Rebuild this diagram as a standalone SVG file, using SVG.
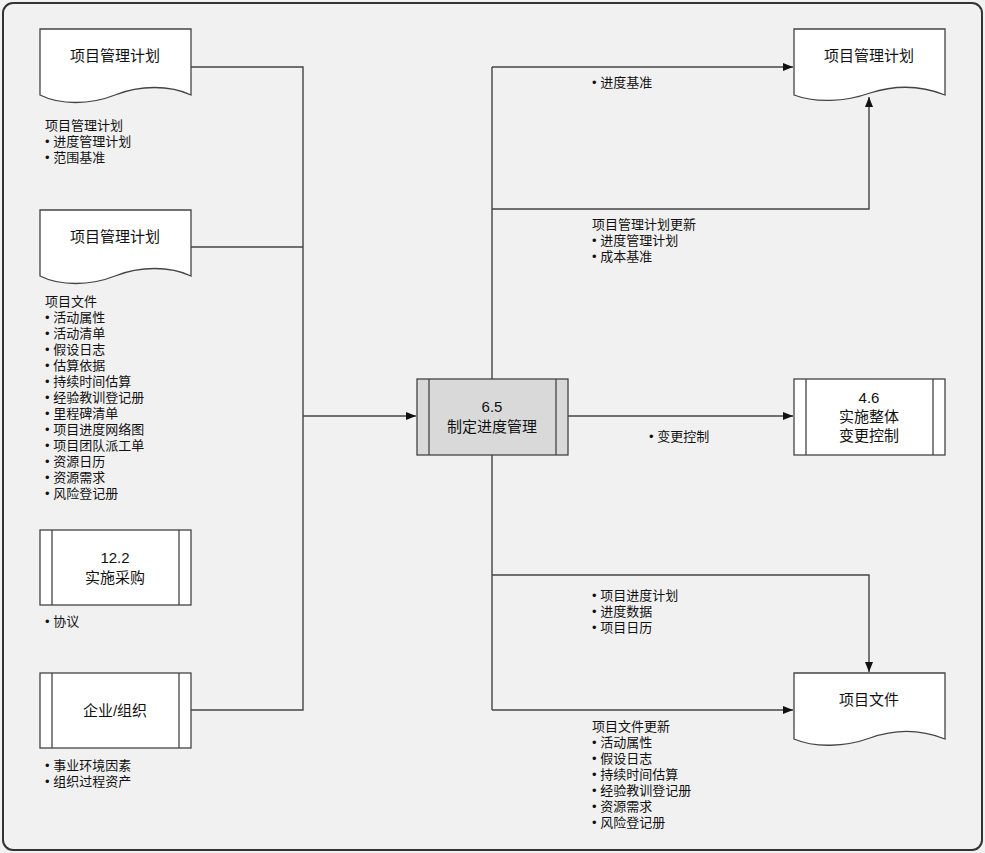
<svg xmlns="http://www.w3.org/2000/svg" width="985" height="853" viewBox="0 0 985 853">
<style>
.bg{fill:#f1f1f1}
.frame{fill:none;stroke:#333;stroke-width:2}
.node{fill:#fff;stroke:#444;stroke-width:1.3}
.proc{fill:#d9d9d9;stroke:#444;stroke-width:1.3}
.in{stroke:#444;stroke-width:1.3;fill:none}
.t{font-family:"Liberation Sans","Noto Sans CJK SC",sans-serif;font-size:15px;fill:#111;text-anchor:middle}
.l{font-family:"Liberation Sans","Noto Sans CJK SC",sans-serif;font-size:13px;fill:#111}
.c{fill:none;stroke:#444;stroke-width:1.4}
</style>
<defs>
<marker id="ah" markerWidth="10" markerHeight="8" refX="10" refY="4" orient="auto" markerUnits="userSpaceOnUse">
<path d="M0,0 L10,4 L0,8 Z" fill="#111"/>
</marker>
</defs>
<rect x="0" y="0" width="985" height="853" class="bg"/>
<rect x="3" y="3" width="979" height="847" rx="10" class="frame"/>

<g id="connectors">
<polyline class="c" points="191,67 303,67 303,710 191,710"/>
<line class="c" x1="191" y1="247" x2="303" y2="247"/>
<line class="c" x1="303" y1="416" x2="416" y2="416" marker-end="url(#ah)"/>
<line class="c" x1="492" y1="67" x2="492" y2="379"/>
<line class="c" x1="492" y1="455" x2="492" y2="710"/>
<line class="c" x1="492" y1="67" x2="793" y2="67" marker-end="url(#ah)"/>
<polyline class="c" points="492,209 869,209 869,97" marker-end="url(#ah)"/>
<line class="c" x1="568" y1="416" x2="793" y2="416" marker-end="url(#ah)"/>
<polyline class="c" points="492,575 869,575 869,672" marker-end="url(#ah)"/>
<line class="c" x1="492" y1="710" x2="793" y2="710" marker-end="url(#ah)"/>
</g>

<g id="doc-pmp-in1">
<path class="node" d="M40,29 H191 V95 C170,85 140,85 115,95 C90,105 60,105 40,95 Z"/>
<text class="t" x="115" y="61">项目管理计划</text>
</g>
<g id="doc-pmp-in2">
<path class="node" d="M40,210 H191 V276 C170,266 140,266 115,276 C90,286 60,286 40,276 Z"/>
<text class="t" x="115" y="242">项目管理计划</text>
</g>
<g id="proc-12-2">
<rect class="node" x="40" y="530" width="151" height="75"/>
<line class="in" x1="52" y1="530" x2="52" y2="605"/>
<line class="in" x1="179" y1="530" x2="179" y2="605"/>
<text class="t" x="115" y="563">12.2</text>
<text class="t" x="115" y="583">实施采购</text>
</g>
<g id="ent-org">
<rect class="node" x="40" y="673" width="151" height="75"/>
<line class="in" x1="52" y1="673" x2="52" y2="748"/>
<line class="in" x1="179" y1="673" x2="179" y2="748"/>
<text class="t" x="115" y="716">企业/组织</text>
</g>
<g id="proc-6-5">
<rect class="proc" x="417" y="379" width="151" height="76"/>
<line class="in" x1="429" y1="379" x2="429" y2="455"/>
<line class="in" x1="556" y1="379" x2="556" y2="455"/>
<text class="t" x="492" y="412">6.5</text>
<text class="t" x="492" y="432">制定进度管理</text>
</g>
<g id="proc-4-6">
<rect class="node" x="794" y="379" width="151" height="76"/>
<line class="in" x1="806" y1="379" x2="806" y2="455"/>
<line class="in" x1="933" y1="379" x2="933" y2="455"/>
<text class="t" x="869" y="403">4.6</text>
<text class="t" x="869" y="422">实施整体</text>
<text class="t" x="869" y="441">变更控制</text>
</g>
<g id="doc-pmp-out">
<path class="node" d="M794,29 H945 V95 C920,85 895,85 870,93 C845,102 815,103 794,95 Z"/>
<text class="t" x="869" y="61">项目管理计划</text>
</g>
<g id="doc-pd-out">
<path class="node" d="M794,673 H945 V739 C920,729 895,729 870,738 C845,747 815,748 794,739 Z"/>
<text class="t" x="869" y="705">项目文件</text>
</g>

<g id="labels">
<text class="l" x="45" y="130">项目管理计划</text>
<text class="l" x="45" y="146">• 进度管理计划</text>
<text class="l" x="45" y="162">• 范围基准</text>

<text class="l" x="45" y="306">项目文件</text>
<text class="l" x="45" y="322">• 活动属性</text>
<text class="l" x="45" y="338">• 活动清单</text>
<text class="l" x="45" y="354">• 假设日志</text>
<text class="l" x="45" y="370">• 估算依据</text>
<text class="l" x="45" y="386">• 持续时间估算</text>
<text class="l" x="45" y="402">• 经验教训登记册</text>
<text class="l" x="45" y="418">• 里程碑清单</text>
<text class="l" x="45" y="434">• 项目进度网络图</text>
<text class="l" x="45" y="450">• 项目团队派工单</text>
<text class="l" x="45" y="466">• 资源日历</text>
<text class="l" x="45" y="482">• 资源需求</text>
<text class="l" x="45" y="498">• 风险登记册</text>

<text class="l" x="45" y="626">• 协议</text>
<text class="l" x="45" y="770">• 事业环境因素</text>
<text class="l" x="45" y="786">• 组织过程资产</text>

<text class="l" x="592" y="87">• 进度基准</text>
<text class="l" x="592" y="229">项目管理计划更新</text>
<text class="l" x="592" y="245">• 进度管理计划</text>
<text class="l" x="592" y="261">• 成本基准</text>

<text class="l" x="649" y="441">• 变更控制</text>

<text class="l" x="592" y="600">• 项目进度计划</text>
<text class="l" x="592" y="616">• 进度数据</text>
<text class="l" x="592" y="632">• 项目日历</text>

<text class="l" x="592" y="731">项目文件更新</text>
<text class="l" x="592" y="747">• 活动属性</text>
<text class="l" x="592" y="763">• 假设日志</text>
<text class="l" x="592" y="779">• 持续时间估算</text>
<text class="l" x="592" y="795">• 经验教训登记册</text>
<text class="l" x="592" y="811">• 资源需求</text>
<text class="l" x="592" y="827">• 风险登记册</text>
</g>
</svg>
